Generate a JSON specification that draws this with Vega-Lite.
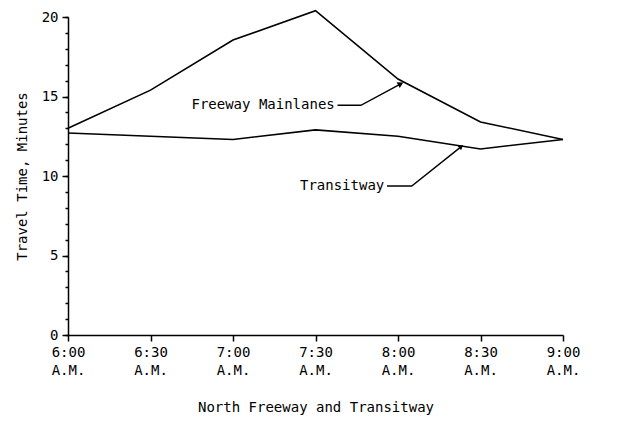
{
  "$schema": "https://vega.github.io/schema/vega-lite/v6.json",
  "autosize": "none",
  "width": 495,
  "height": 318,
  "padding": {"left": 68, "top": 17, "right": 61, "bottom": 88},
  "background": "white",
  "config": {
    "view": {"stroke": null},
    "font": "DejaVu Sans Mono",
    "axis": {
      "grid": false,
      "domainColor": "black",
      "domainWidth": 1.5,
      "tickColor": "black",
      "tickWidth": 1.5,
      "labelColor": "black",
      "labelFont": "DejaVu Sans Mono",
      "labelFontSize": 14,
      "titleColor": "black",
      "titleFont": "DejaVu Sans Mono",
      "titleFontSize": 14,
      "titleFontWeight": "normal"
    }
  },
  "datasets": {
    "series": [
      {"series": "Freeway Mainlanes", "minutes": 0, "value": 13.0},
      {"series": "Freeway Mainlanes", "minutes": 30, "value": 15.4},
      {"series": "Freeway Mainlanes", "minutes": 60, "value": 18.55},
      {"series": "Freeway Mainlanes", "minutes": 90, "value": 20.4},
      {"series": "Freeway Mainlanes", "minutes": 120, "value": 16.1},
      {"series": "Freeway Mainlanes", "minutes": 150, "value": 13.4},
      {"series": "Freeway Mainlanes", "minutes": 180, "value": 12.3},
      {"series": "Transitway", "minutes": 0, "value": 12.7},
      {"series": "Transitway", "minutes": 30, "value": 12.5},
      {"series": "Transitway", "minutes": 60, "value": 12.3},
      {"series": "Transitway", "minutes": 90, "value": 12.9},
      {"series": "Transitway", "minutes": 120, "value": 12.5},
      {"series": "Transitway", "minutes": 150, "value": 11.7},
      {"series": "Transitway", "minutes": 180, "value": 12.3}
    ],
    "labels": [
      {"label": "Freeway Mainlanes", "minutes": 97, "value": 14.45},
      {"label": "Transitway", "minutes": 115, "value": 9.37}
    ],
    "leaders": [
      {"leader": "Freeway Mainlanes", "order": 0, "minutes": 98, "value": 14.45},
      {"leader": "Freeway Mainlanes", "order": 1, "minutes": 106.5, "value": 14.45},
      {"leader": "Freeway Mainlanes", "order": 2, "minutes": 121, "value": 15.8},
      {"leader": "Transitway", "order": 0, "minutes": 116, "value": 9.37},
      {"leader": "Transitway", "order": 1, "minutes": 125, "value": 9.37},
      {"leader": "Transitway", "order": 2, "minutes": 143, "value": 11.85}
    ],
    "ticks": [
      {"value": 0}, {"value": 1}, {"value": 2}, {"value": 3}, {"value": 4},
      {"value": 5}, {"value": 6}, {"value": 7}, {"value": 8}, {"value": 9},
      {"value": 10}, {"value": 11}, {"value": 12}, {"value": 13}, {"value": 14},
      {"value": 15}, {"value": 16}, {"value": 17}, {"value": 18}, {"value": 19},
      {"value": 20}
    ]
  },
  "resolve": {"axis": {"y": "independent"}},
  "layer": [
    {
      "data": {"name": "series"},
      "mark": {"type": "line", "color": "black", "strokeWidth": 1.6},
      "encoding": {
        "x": {
          "field": "minutes",
          "type": "quantitative",
          "scale": {"domain": [0, 180], "nice": false, "zero": false},
          "axis": {
            "values": [0, 30, 60, 90, 120, 150, 180],
            "labelExpr": "[(floor(datum.value/60)+6) + ':' + (datum.value % 60 == 0 ? '00' : '30'), 'A.M.']",
            "labelAlign": "center",
            "labelBaseline": "top",
            "labelLineHeight": 18,
            "labelPadding": 4,
            "labelFlush": false,
            "labelOverlap": false,
            "tickSize": 6,
            "title": "North Freeway and Transitway",
            "titlePadding": 23
          }
        },
        "y": {
          "field": "value",
          "type": "quantitative",
          "scale": {"domain": [0, 20], "nice": false},
          "axis": {
            "orient": "left",
            "values": [0, 5, 10, 15, 20],
            "tickSize": 6,
            "labelPadding": 4,
            "title": "Travel Time, Minutes",
            "titlePadding": 12
          }
        },
        "detail": {"field": "series"}
      }
    },
    {
      "data": {"name": "ticks"},
      "mark": {"type": "point", "opacity": 0},
      "encoding": {
        "x": {"datum": 0, "type": "quantitative"},
        "y": {
          "field": "value",
          "type": "quantitative",
          "axis": {
            "orient": "left",
            "values": [0, 1, 2, 3, 4, 5, 6, 7, 8, 9, 10, 11, 12, 13, 14, 15, 16, 17, 18, 19, 20],
            "labels": false,
            "domain": false,
            "tickSize": 3,
            "title": null
          }
        }
      }
    },
    {
      "data": {"name": "leaders"},
      "mark": {"type": "line", "color": "black", "strokeWidth": 1.4},
      "encoding": {
        "x": {"field": "minutes", "type": "quantitative"},
        "y": {"field": "value", "type": "quantitative", "axis": null},
        "detail": {"field": "leader"},
        "order": {"field": "order"}
      }
    },
    {
      "data": {"name": "leaders"},
      "transform": [{"filter": "datum.order == 2 && datum.leader == 'Freeway Mainlanes'"}],
      "mark": {"type": "point", "shape": "triangle-right", "filled": true, "color": "black", "size": 45, "opacity": 1, "angle": -28},
      "encoding": {
        "x": {"field": "minutes", "type": "quantitative"},
        "y": {"field": "value", "type": "quantitative", "axis": null}
      }
    },
    {
      "data": {"name": "leaders"},
      "transform": [{"filter": "datum.order == 2 && datum.leader == 'Transitway'"}],
      "mark": {"type": "point", "shape": "triangle-right", "filled": true, "color": "black", "size": 30, "opacity": 1, "angle": -38},
      "encoding": {
        "x": {"field": "minutes", "type": "quantitative"},
        "y": {"field": "value", "type": "quantitative", "axis": null}
      }
    },
    {
      "data": {"name": "labels"},
      "mark": {"type": "text", "align": "right", "baseline": "middle", "font": "DejaVu Sans Mono", "fontSize": 14, "color": "black"},
      "encoding": {
        "x": {"field": "minutes", "type": "quantitative"},
        "y": {"field": "value", "type": "quantitative", "axis": null},
        "text": {"field": "label"}
      }
    }
  ]
}
